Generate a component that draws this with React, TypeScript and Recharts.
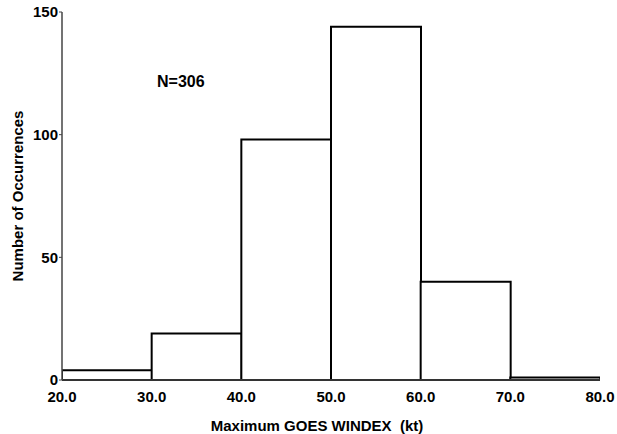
import React from 'react';
import { ComposedChart, Bar, XAxis, YAxis, Label } from 'recharts';

// histogram bins (kt): lower edge, width 10; counts, N = 306
const binStarts = [20, 30, 40, 50, 60, 70];
const binCounts = [4, 19, 98, 144, 40, 1];
const binWidth = 10;
const xTicks = [20, 30, 40, 50, 60, 70, 80];
const yTicks = [0, 50, 100, 150];

const FONT = '"Liberation Sans", Arial, sans-serif';

const data = binStarts.map((s, i) => ({ mid: s + binWidth / 2, count: binCounts[i] }));

const YTitle = (props: any) => {
  const vb = props.viewBox || {};
  const cx = 17;
  const cy = vb.y + vb.height / 2;
  return (
    <text
      x={cx}
      y={cy}
      transform={`rotate(-90, ${cx}, ${cy})`}
      textAnchor="middle"
      dominantBaseline="central"
      fontFamily={FONT}
      fontWeight="bold"
      fontSize={15}
      fill="#000"
    >
      Number of Occurrences
    </text>
  );
};

const XTitle = (props: any) => {
  const vb = props.viewBox || {};
  return (
    <text
      x={vb.x + vb.width / 2 - 14}
      y={431}
      textAnchor="middle"
      fontFamily={FONT}
      fontWeight="bold"
      fontSize={15}
      fill="#000"
      style={{ whiteSpace: 'pre' }}
    >
      {'Maximum GOES WINDEX  (kt)'}
    </text>
  );
};

export default function App() {
  return (
    <div style={{ position: 'absolute', left: 0, top: 0, width: 617, height: 434, background: '#fff' }}>
      <ComposedChart
        width={617}
        height={434}
        data={data}
        margin={{ top: 12, right: 17, bottom: 0, left: 0 }}
        barCategoryGap={0}
        barGap={0}
      >
        <XAxis
          dataKey="mid"
          type="number"
          domain={[20, 80]}
          allowDataOverflow
          ticks={xTicks}
          interval={0}
          tickFormatter={(v: number) => v.toFixed(1)}
          height={54}
          tickLine={false}
          tickSize={0}
          tickMargin={11}
          axisLine={{ stroke: '#444', strokeWidth: 1.5 }}
          tick={{ fill: '#000', fontFamily: FONT, fontWeight: 'bold', fontSize: 15 }}
        >
          <Label content={XTitle} />
        </XAxis>
        <YAxis
          domain={[0, 150]}
          ticks={yTicks}
          interval={0}
          width={62}
          tickSize={3}
          tickMargin={1}
          axisLine={{ stroke: '#444', strokeWidth: 1.5 }}
          tickLine={{ stroke: '#444' }}
          tick={{ fill: '#000', fontFamily: FONT, fontWeight: 'bold', fontSize: 15 }}
        >
          <Label content={YTitle} />
        </YAxis>
        <Bar
          dataKey="count"
          fill="#fff"
          stroke="#000"
          strokeWidth={2}
          isAnimationActive={false}
        />
      </ComposedChart>
      <div
        style={{
          position: 'absolute',
          left: 157,
          top: 73,
          fontFamily: FONT,
          fontWeight: 'bold',
          fontSize: 16,
          color: '#000',
          lineHeight: '18px',
        }}
      >
        N=306
      </div>
    </div>
  );
}
